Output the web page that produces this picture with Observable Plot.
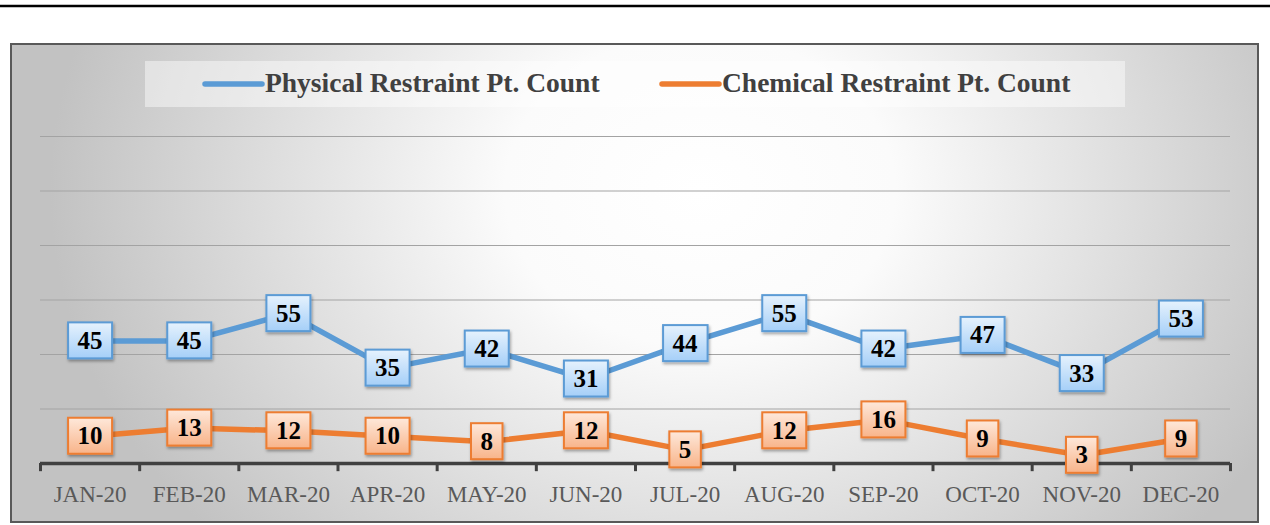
<!DOCTYPE html>
<html>
<head>
<meta charset="utf-8">
<script src="https://cdn.jsdelivr.net/npm/d3@7"></script>
<script src="https://cdn.jsdelivr.net/npm/@observablehq/plot@0.6"></script>
<style>
  html, body { margin: 0; padding: 0; background: #ffffff; }
  svg { display: block; }
</style>
</head>
<body>
<div id="chart"></div>
<script>
// ---- data ----
const months = ["JAN-20","FEB-20","MAR-20","APR-20","MAY-20","JUN-20","JUL-20","AUG-20","SEP-20","OCT-20","NOV-20","DEC-20"];
const physical = [45,45,55,35,42,31,44,55,42,47,33,53];
const chemical = [10,13,12,10,8,12,5,12,16,9,3,9];
const seriesNames = ["Physical Restraint Pt. Count","Chemical Restraint Pt. Count"];
const seriesColors = ["#5b9bd5","#ed7d31"];
const gridValues = [20,40,60,80,100,120];

const physRows = physical.map((v,i) => ({i, month: months[i], value: v, series: seriesNames[0]}));
const chemRows = chemical.map((v,i) => ({i, month: months[i], value: v, series: seriesNames[1]}));
const rows = physRows.concat(chemRows);
const boundaries = d3.range(months.length + 1).map(i => i - 0.5);

const serif = "'Liberation Serif', 'Times New Roman', serif";

const plot = Plot.plot({
  width: 1270,
  height: 525,
  marginLeft: 40,
  marginRight: 40,
  marginTop: 81.5,
  marginBottom: 62,
  style: {background: "transparent", fontFamily: serif},
  x: {type: "linear", domain: [-0.5, months.length - 0.5], axis: null},
  y: {domain: [0, 140], axis: null},
  color: {domain: seriesNames, range: seriesColors},
  marks: [
    Plot.ruleY(gridValues, {stroke: "#a3a3a3", strokeWidth: 1.2}),
    Plot.ruleX(boundaries, {x: d => d, y1: 0, y2: -3, stroke: "#404040", strokeWidth: 3}),
    Plot.ruleY([0], {stroke: "#404040", strokeWidth: 3.5}),
    Plot.text(months, {x: (d, i) => i, y: 0, dy: 31, text: d => d, fill: "#595959", fontSize: 23, fontFamily: serif}),
    Plot.line(rows, {x: "i", y: "value", z: "series", stroke: "series", strokeWidth: 5.5, strokeLinejoin: "round"}),
    Plot.text(physRows, {x: "i", y: "value", text: d => String(d.value), fill: "#000", fontSize: 25, fontWeight: "bold", fontFamily: serif}),
    Plot.text(chemRows, {x: "i", y: "value", text: d => String(d.value), fill: "#000", fontSize: 25, fontWeight: "bold", fontFamily: serif})
  ]
});

document.getElementById("chart").appendChild(plot);

const svg = d3.select(plot);
const defs = svg.insert("defs", ":first-child");

// background gradient
const bg = defs.append("radialGradient")
  .attr("id", "bgGrad")
  .attr("gradientUnits", "userSpaceOnUse")
  .attr("cx", 700).attr("cy", 190).attr("r", 650)
  .attr("gradientTransform", "translate(700,190) scale(1,0.8) translate(-700,-190)");
bg.append("stop").attr("offset", 0).attr("stop-color", "#ffffff");
bg.append("stop").attr("offset", 0.3).attr("stop-color", "#fbfbfb");
bg.append("stop").attr("offset", 1).attr("stop-color", "#c2c2c2");

function vgrad(id, top, bottom) {
  const g = defs.append("linearGradient").attr("id", id).attr("x1", 0).attr("y1", 0).attr("x2", 0).attr("y2", 1);
  g.append("stop").attr("offset", 0).attr("stop-color", top);
  g.append("stop").attr("offset", 1).attr("stop-color", bottom);
}
vgrad("blueBox", "#e6f2fd", "#a5cff8");
vgrad("orangeBox", "#fee8da", "#f8b48a");

const filt = defs.append("filter").attr("id", "shadow").attr("x", "-30%").attr("y", "-30%").attr("width", "160%").attr("height", "160%");
filt.append("feDropShadow").attr("dx", 1).attr("dy", 2).attr("stdDeviation", 1.5).attr("flood-color", "#000").attr("flood-opacity", 0.35);

// background frame (inserted behind marks)
const bgGroup = svg.insert("g", "defs + *");
bgGroup.append("line").attr("x1", 0).attr("x2", 1270).attr("y1", 6).attr("y2", 6).attr("stroke", "#000").attr("stroke-width", 2.5);
bgGroup.append("rect").attr("x", 11).attr("y", 44).attr("width", 1247).attr("height", 478)
  .attr("fill", "url(#bgGrad)").attr("stroke", "#595959").attr("stroke-width", 2);

// legend
const leg = svg.append("g").attr("text-anchor", "start");
leg.append("rect").attr("x", 145).attr("y", 61).attr("width", 980).attr("height", 46).attr("fill", "#ffffff").attr("fill-opacity", 0.45);
const legX = [205, 662];
seriesNames.forEach((name, k) => {
  leg.append("line").attr("x1", legX[k]).attr("x2", legX[k] + 57).attr("y1", 84).attr("y2", 84)
    .attr("stroke", seriesColors[k]).attr("stroke-width", 5.5).attr("stroke-linecap", "round");
  leg.append("text").attr("x", legX[k] + 60).attr("y", 92).text(name)
    .attr("text-anchor", "start")
    .attr("fill", "#404040").attr("font-family", serif).attr("font-weight", "bold").attr("font-size", 27.5);
});

// data label boxes
const labelGroups = svg.selectAll('g[aria-label="text"]').nodes();
const dataGroups = labelGroups.slice(-2);
const boxStyles = [
  {fill: "url(#blueBox)", stroke: seriesColors[0]},
  {fill: "url(#orangeBox)", stroke: seriesColors[1]}
];
dataGroups.forEach((g, k) => {
  d3.select(g).selectAll("text").each(function() {
    const bb = this.getBBox();
    const w = bb.width + 19, h = 36;
    const cx = bb.x + bb.width / 2, cy = bb.y + bb.height / 2;
    const r = document.createElementNS("http://www.w3.org/2000/svg", "rect");
    r.setAttribute("x", cx - w / 2);
    r.setAttribute("y", cy - h / 2);
    r.setAttribute("width", w);
    r.setAttribute("height", h);
    r.setAttribute("fill", boxStyles[k].fill);
    r.setAttribute("stroke", boxStyles[k].stroke);
    r.setAttribute("stroke-width", 2);
    r.setAttribute("filter", "url(#shadow)");
    const t = this.getAttribute("transform");
    if (t) r.setAttribute("transform", t);
    this.parentNode.insertBefore(r, this);
  });
});
</script>
</body>
</html>
